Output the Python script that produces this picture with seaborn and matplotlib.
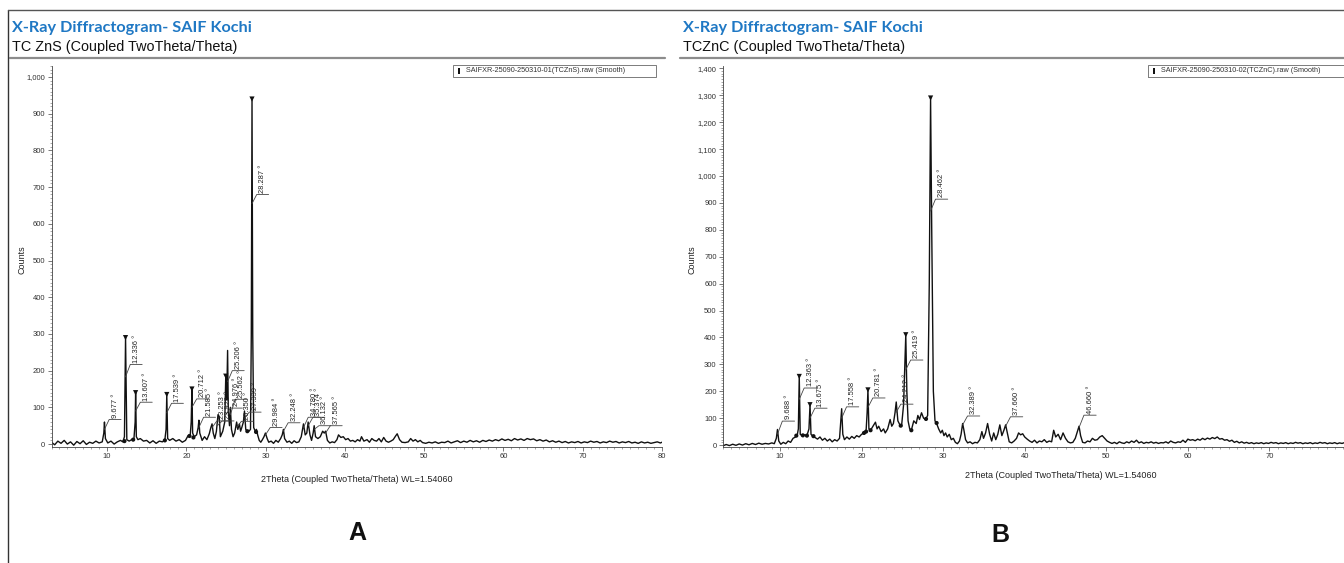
import matplotlib
matplotlib.use("Agg")
import matplotlib.pyplot as plt
from matplotlib.ticker import MultipleLocator, FuncFormatter
from matplotlib.lines import Line2D
from matplotlib.patches import Rectangle
import pandas as pd
import seaborn as sns

# ---------------- data ----------------
TITLE = "X-Ray Diffractogram- SAIF Kochi"
SUB_A = "TC ZnS (Coupled TwoTheta/Theta)"
SUB_B = "TCZnC (Coupled TwoTheta/Theta)"
XLABEL = "2Theta (Coupled TwoTheta/Theta) WL=1.54060"
YLABEL = "Counts"
LEG_A = "SAIFXR-25090-250310-01(TCZnS).raw (Smooth)"
LEG_B = "SAIFXR-25090-250310-02(TCZnC).raw (Smooth)"
X_TICKS_A = [10, 20, 30, 40, 50, 60, 70, 80]
X_TICKS_B = [10, 20, 30, 40, 50, 60, 70]

A_PROFILE = [
    (3.0, 5), (3.4, -2), (3.8, 8), (4.2, 2), (4.6, 10), (5.0, 0), (5.4, 6), (5.8, -3),
    (6.2, 7), (6.6, 1), (7.0, 9), (7.4, -1), (7.8, 5), (8.2, 2), (8.6, 8), (9.0, 3),
    (9.4, 6), (9.6, 30), (9.68, 60), (9.8, 15), (10.1, 3), (10.5, 8), (10.9, 0), (11.3, 6),
    (11.7, 10), (12.0, 6), (12.2, 20), (12.34, 290), (12.5, 12), (12.8, 8), (13.1, 12),
    (13.4, 15), (13.55, 60), (13.61, 140), (13.7, 20), (13.9, 12), (14.2, 15), (14.6, 8),
    (15.0, 10), (15.4, 3), (15.8, 9), (16.2, 2), (16.6, 8), (17.0, 6), (17.3, 12),
    (17.45, 40), (17.54, 135), (17.65, 15), (17.9, 10), (18.3, 15), (18.7, 8), (19.1, 12),
    (19.5, 5), (19.9, 10), (20.2, 22), (20.5, 25), (20.62, 60), (20.71, 150), (20.8, 30),
    (21.0, 20), (21.3, 25), (21.5, 45), (21.59, 65), (21.7, 30), (22.0, 10), (22.3, 20),
    (22.6, 12), (22.9, 28), (23.1, 45), (23.25, 55), (23.4, 30), (23.6, 15), (23.8, 35),
    (24.0, 80), (24.15, 75), (24.3, 20), (24.6, 35), (24.85, 60), (24.98, 185), (25.1, 120),
    (25.21, 255), (25.3, 90), (25.45, 50), (25.56, 100), (25.7, 40), (25.9, 20), (26.1, 30),
    (26.35, 60), (26.5, 40), (26.7, 55), (26.85, 35), (27.0, 45), (27.2, 60), (27.34, 90),
    (27.5, 40), (27.7, 35), (27.9, 35), (28.1, 40), (28.2, 300), (28.29, 940), (28.38, 300),
    (28.5, 45), (28.7, 35), (28.85, 40), (29.0, 25), (29.2, 10), (29.4, 5), (29.6, 12),
    (29.8, 20), (29.98, 30), (30.2, 15), (30.4, 5), (30.7, 8), (31.0, 2), (31.3, 10),
    (31.6, 5), (31.9, 15), (32.1, 25), (32.25, 40), (32.4, 15), (32.7, 5), (33.0, 8),
    (33.3, 2), (33.6, 9), (33.9, 4), (34.2, 6), (34.5, 20), (34.78, 55), (35.0, 25),
    (35.2, 30), (35.37, 60), (35.6, 25), (35.8, 10), (36.0, 30), (36.13, 50), (36.3, 20),
    (36.6, 15), (36.9, 20), (37.2, 35), (37.4, 30), (37.57, 35), (37.8, 10), (38.1, 3),
    (38.4, 6), (38.7, 4), (39.0, 12), (39.2, 25), (39.5, 18), (39.8, 20), (40.1, 12),
    (40.4, 15), (40.7, 8), (41.0, 10), (41.3, 6), (41.6, 12), (41.9, 8), (42.1, 20),
    (42.4, 8), (42.8, 12), (43.1, 5), (43.4, 15), (43.7, 10), (44.0, 8), (44.3, 15),
    (44.6, 6), (44.9, 18), (45.2, 8), (45.5, 5), (45.8, 8), (46.1, 12), (46.4, 22),
    (46.6, 28), (46.9, 12), (47.2, 5), (47.6, 4), (48.0, 6), (48.3, 15), (48.6, 8),
    (48.9, 12), (49.2, 6), (49.5, 10), (49.8, 4), (50.2, 2), (50.6, 5), (51.0, 3),
    (51.4, 6), (51.8, 2), (52.2, 5), (52.6, 4), (53.0, 8), (53.4, 3), (53.8, 6), (54.2, 9),
    (54.6, 4), (55.0, 8), (55.4, 5), (55.8, 10), (56.2, 6), (56.6, 9), (57.0, 5), (57.4, 10),
    (57.8, 7), (58.2, 11), (58.6, 8), (59.0, 12), (59.4, 9), (59.8, 14), (60.2, 10),
    (60.6, 13), (61.0, 9), (61.4, 15), (61.8, 11), (62.2, 14), (62.6, 10), (63.0, 15),
    (63.4, 12), (63.8, 14), (64.2, 9), (64.6, 12), (65.0, 8), (65.4, 11), (65.8, 6),
    (66.2, 9), (66.6, 5), (67.0, 8), (67.4, 4), (67.8, 7), (68.2, 3), (68.6, 6), (69.0, 4),
    (69.4, 7), (69.8, 3), (70.2, 6), (70.6, 4), (71.0, 8), (71.4, 5), (71.8, 7), (72.2, 3),
    (72.6, 6), (73.0, 4), (73.4, 8), (73.8, 5), (74.2, 7), (74.6, 3), (75.0, 6), (75.4, 4),
    (75.8, 7), (76.2, 3), (76.6, 5), (77.0, 2), (77.4, 6), (77.8, 3), (78.2, 5), (78.6, 2),
    (79.0, 4), (79.4, 6), (79.8, 3), (80.0, 5),
]

B_PROFILE = [
    (3.0, -3), (3.4, 2), (3.8, -2), (4.2, 3), (4.6, -1), (5.0, 4), (5.4, 0), (5.8, 5),
    (6.2, 1), (6.6, 6), (7.0, 2), (7.4, 7), (7.8, 3), (8.2, 6), (8.6, 4), (9.0, 8), (9.3, 5),
    (9.55, 25), (9.69, 58), (9.85, 15), (10.1, 3), (10.4, 10), (10.7, 5), (11.0, 15),
    (11.3, 10), (11.6, 25), (11.9, 30), (12.1, 35), (12.25, 60), (12.36, 255), (12.48, 40),
    (12.7, 35), (13.0, 38), (13.3, 35), (13.55, 60), (13.68, 150), (13.8, 40), (14.0, 33),
    (14.3, 28), (14.6, 22), (14.9, 30), (15.2, 18), (15.5, 25), (15.8, 15), (16.1, 22),
    (16.4, 12), (16.7, 20), (17.0, 15), (17.3, 25), (17.45, 90), (17.56, 135), (17.7, 40),
    (17.9, 20), (18.2, 30), (18.5, 22), (18.8, 32), (19.1, 25), (19.4, 35), (19.7, 30),
    (20.0, 40), (20.3, 45), (20.55, 50), (20.68, 120), (20.78, 205), (20.9, 60), (21.1, 55),
    (21.4, 70), (21.7, 85), (21.9, 60), (22.1, 70), (22.4, 50), (22.7, 60), (22.9, 45),
    (23.2, 60), (23.5, 95), (23.7, 70), (23.9, 80), (24.1, 120), (24.25, 160), (24.45, 90),
    (24.7, 75), (24.9, 70), (25.15, 150), (25.3, 300), (25.42, 410), (25.55, 200),
    (25.7, 90), (25.9, 60), (26.1, 55), (26.4, 90), (26.7, 80), (26.9, 110), (27.1, 95),
    (27.35, 120), (27.6, 100), (27.85, 95), (28.1, 110), (28.3, 600), (28.46, 1290),
    (28.6, 800), (28.8, 200), (29.0, 90), (29.2, 80), (29.45, 60), (29.7, 45), (29.9, 55),
    (30.1, 35), (30.3, 45), (30.5, 30), (30.75, 40), (31.0, 20), (31.25, 25), (31.5, 10),
    (31.75, 5), (32.0, 15), (32.2, 40), (32.39, 80), (32.55, 55), (32.75, 20), (33.0, 8),
    (33.3, 12), (33.6, 5), (33.9, 10), (34.2, 8), (34.5, 20), (34.75, 50), (34.95, 25),
    (35.2, 45), (35.45, 80), (35.7, 40), (35.95, 15), (36.2, 45), (36.45, 20), (36.7, 40),
    (36.95, 75), (37.2, 35), (37.45, 55), (37.66, 75), (37.9, 40), (38.1, 12), (38.4, 8),
    (38.7, 15), (39.0, 25), (39.25, 45), (39.5, 38), (39.75, 42), (40.0, 30), (40.3, 22),
    (40.6, 15), (40.9, 10), (41.2, 18), (41.5, 8), (41.8, 15), (42.1, 12), (42.4, 20),
    (42.7, 10), (43.0, 15), (43.3, 12), (43.55, 55), (43.8, 30), (44.1, 40), (44.4, 20),
    (44.7, 45), (45.0, 25), (45.3, 12), (45.6, 8), (45.9, 10), (46.2, 25), (46.45, 50),
    (46.66, 70), (46.85, 35), (47.1, 10), (47.4, 8), (47.7, 15), (48.0, 12), (48.3, 25),
    (48.6, 18), (48.9, 20), (49.2, 30), (49.5, 35), (49.8, 25), (50.1, 15), (50.4, 10),
    (50.7, 6), (51.0, 10), (51.3, 5), (51.6, 12), (51.9, 8), (52.2, 6), (52.5, 12),
    (52.8, 8), (53.1, 15), (53.4, 10), (53.7, 18), (54.0, 8), (54.3, 12), (54.6, 6),
    (54.9, 10), (55.2, 8), (55.5, 12), (55.8, 7), (56.1, 10), (56.4, 6), (56.7, 9),
    (57.0, 8), (57.3, 12), (57.6, 7), (57.9, 15), (58.2, 10), (58.5, 8), (58.8, 12),
    (59.1, 10), (59.4, 18), (59.7, 10), (60.0, 22), (60.3, 18), (60.6, 20), (60.9, 16),
    (61.2, 22), (61.5, 18), (61.8, 25), (62.1, 20), (62.4, 26), (62.7, 22), (63.0, 28),
    (63.3, 24), (63.6, 30), (63.9, 22), (64.2, 24), (64.5, 18), (64.8, 20), (65.1, 14),
    (65.4, 18), (65.7, 10), (66.0, 14), (66.3, 8), (66.6, 12), (66.9, 7), (67.2, 10),
    (67.5, 6), (67.8, 9), (68.1, 5), (68.4, 8), (68.7, 6), (69.0, 9), (69.3, 5), (69.6, 8),
    (69.9, 6), (70.2, 10), (70.5, 7), (70.8, 9), (71.1, 5), (71.4, 8), (71.7, 6), (72.0, 9),
    (72.3, 5), (72.6, 8), (72.9, 6), (73.2, 10), (73.5, 7), (73.8, 9), (74.1, 5), (74.4, 8),
    (74.7, 6), (75.0, 9), (75.3, 5), (75.6, 8), (75.9, 6), (76.2, 10), (76.5, 7), (76.8, 9),
    (77.1, 5), (77.4, 8), (77.7, 6), (78.0, 9), (78.3, 5), (78.6, 8), (78.9, 6), (79.2, 9),
    (79.5, 5), (79.8, 8), (80.0, 6),
]

# peak labels: (2theta, anchor counts, label-bar counts, text)
A_LABELS = [
    (9.677, 40, 67, "9.677 °"), (12.336, 183, 217, "12.336 °"), (13.607, 90, 114, "13.607 °"),
    (17.539, 85, 111, "17.539 °"), (20.712, 100, 123, "20.712 °"), (21.585, 45, 73, "21.585 °"),
    (23.253, 45, 63, "23.253 °"), (23.922, 50, 63, "23.922 °"), (24.976, 80, 98, "24.976 °"),
    (25.206, 170, 200, "25.206 °"), (25.562, 80, 122, "25.562 °"), (26.350, 45, 62, "26.350 °"),
    (27.339, 70, 87, "27.339 °"), (28.287, 655, 680, "28.287 °"), (29.984, 25, 45, "29.984 °"),
    (32.248, 35, 58, "32.248 °"), (34.780, 45, 73, "34.780 °"), (35.374, 50, 73, "35.374 °"),
    (36.132, 40, 50, "36.132 °"), (37.565, 30, 50, "37.565 °"),
]
B_LABELS = [
    (9.688, 40, 89, "9.688 °"), (12.363, 170, 212, "12.363 °"), (13.675, 100, 137, "13.675 °"),
    (17.558, 100, 142, "17.558 °"), (20.781, 140, 175, "20.781 °"), (24.212, 120, 152, "24.212 °"),
    (25.419, 280, 316, "25.419 °"), (28.462, 870, 914, "28.462 °"), (32.389, 75, 108, "32.389 °"),
    (37.660, 70, 105, "37.660 °"), (46.660, 65, 111, "46.660 °"),
]
A_TRI = [(12.336, 290), (13.607, 140), (17.539, 135), (20.712, 150), (24.976, 185), (28.287, 940)]
A_DOTS = [(12.2, 8), (13.3, 12), (17.3, 10), (20.4, 22), (20.9, 18), (27.7, 35), (28.8, 33)]
B_TRI = [(12.363, 255), (13.675, 150), (20.781, 205), (25.419, 410), (28.462, 1290)]
B_DOTS = [(12.0, 35), (12.8, 36), (13.3, 35), (14.1, 33), (20.3, 45), (20.55, 50), (21.1, 55),
          (24.8, 72), (26.1, 55), (27.9, 97), (29.2, 82)]

# ---------------- drawing ----------------
sns.set_theme(style="ticks")
plt.rcParams['font.family'] = ['Liberation Sans', 'DejaVu Sans']

W, H = 1344, 563
fig = plt.figure(figsize=(W / 100, H / 100), dpi=100)
fig.patch.set_facecolor('white')


def frac(x0, y0, x1, y1):
    return [x0 / W, 1 - y1 / H, (x1 - x0) / W, (y1 - y0) / H]


def draw_panel(ax, profile, labels, tri, dots, ymax, ymajor, xticks):
    df = pd.DataFrame(profile, columns=["theta", "counts"])
    sns.lineplot(data=df, x="theta", y="counts", ax=ax, color="#111111", lw=1.0,
                 sort=False, estimator=None)
    tdf = pd.DataFrame(tri, columns=["theta", "counts"])
    sns.scatterplot(data=tdf, x="theta", y="counts", ax=ax, marker="v", s=14,
                    color="#111111", edgecolor="none", zorder=5)
    ddf = pd.DataFrame(dots, columns=["theta", "counts"])
    sns.scatterplot(data=ddf, x="theta", y="counts", ax=ax, marker="o", s=9,
                    color="#111111", edgecolor="none", zorder=5)
    dx, w = 0.6, 1.5
    for x, ya, yh, txt in labels:
        ax.plot([x, x + dx, x + dx + w], [ya, yh, yh], color="#444444", lw=0.6)
        ax.annotate(txt, (x + dx + w / 2, yh), xytext=(0, 1.2), textcoords="offset points",
                    rotation=90, ha="center", va="bottom", fontsize=5.4, color="#222222")
    ax.set_xlim(3, 80)
    ax.set_ylim(-8, ymax)
    ax.set_xticks(xticks)
    ax.xaxis.set_minor_locator(MultipleLocator(1))
    ax.yaxis.set_major_locator(MultipleLocator(ymajor))
    ax.yaxis.set_minor_locator(MultipleLocator(10))
    ax.yaxis.set_major_formatter(FuncFormatter(lambda v, p: f"{int(round(v)):,}" if v >= 0 else ""))
    ax.set_xlabel("")
    ax.set_ylabel("")
    ax.tick_params(axis="both", which="major", labelsize=5.5, length=3, width=0.5,
                   color="#444444", labelcolor="#333333", pad=1.5)
    ax.tick_params(axis="both", which="minor", length=1.5, width=0.4, color="#666666")
    for s in ["top", "right"]:
        ax.spines[s].set_visible(False)
    for s in ["left", "bottom"]:
        ax.spines[s].set_linewidth(0.6)
        ax.spines[s].set_color("#444444")
    ax.set_facecolor("white")


axA = fig.add_axes(frac(51.5, 66, 662, 447))
draw_panel(axA, A_PROFILE, A_LABELS, A_TRI, A_DOTS, 1030, 100, X_TICKS_A)
axB = fig.add_axes(frac(722.9, 66, 1351, 447.2))
draw_panel(axB, B_PROFILE, B_LABELS, B_TRI, B_DOTS, 1409, 100, X_TICKS_B)

title_font = ['Lato', 'DejaVu Sans']
blue = "#1f78c4"
for x0, sub, lx0, lx1 in [(12, SUB_A, 10, 665), (683, SUB_B, 680, 1344)]:
    fig.text(x0 / W, 1 - 28 / H, TITLE, color=blue, fontsize=11.7, fontweight="bold",
             family=title_font, va="center", ha="left")
    fig.text(x0 / W, 1 - 47 / H, sub, color="#111111", fontsize=10.4, va="center", ha="left")
    fig.add_artist(Line2D([lx0 / W, lx1 / W], [1 - 58 / H, 1 - 58 / H], color="#8c8c8c", lw=1.6))

# legends (boxed)
for bx0, bx1, txt in [(453, 656, LEG_A), (1148, 1346, LEG_B)]:
    fig.add_artist(Rectangle((bx0 / W, 1 - 77 / H), (bx1 - bx0) / W, 12 / H,
                             transform=fig.transFigure, fill=False, lw=0.6, edgecolor="#666666"))
    fig.add_artist(Rectangle(((bx0 + 5) / W, 1 - 74 / H), 2 / W, 6 / H,
                             transform=fig.transFigure, facecolor="#111111", edgecolor="none"))
    fig.text((bx0 + 13) / W, 1 - 71 / H, txt, fontsize=5.2, va="center", ha="left", color="#333333")

# axis titles
fig.text(22 / W, 1 - 260 / H, YLABEL, rotation=90, fontsize=6.5, va="center", ha="center", color="#222222")
fig.text(692 / W, 1 - 260 / H, YLABEL, rotation=90, fontsize=6.5, va="center", ha="center", color="#222222")
fig.text(357 / W, 1 - 480 / H, XLABEL, fontsize=6.5, va="center", ha="center", color="#222222")
fig.text(1061 / W, 1 - 475 / H, XLABEL, fontsize=6.5, va="center", ha="center", color="#222222")

# panel letters
fig.text(357 / W, 1 - 533 / H, "A", fontsize=18, fontweight="bold", va="center", ha="center", color="#111111")
fig.text(1000 / W, 1 - 535 / H, "B", fontsize=18, fontweight="bold", va="center", ha="center", color="#111111")

# outer frame lines
fig.add_artist(Line2D([8 / W, 8 / W], [1 - 10 / H, 0], color="#333333", lw=1.0))
fig.add_artist(Line2D([8 / W, 1], [1 - 10 / H, 1 - 10 / H], color="#555555", lw=1.0))

fig.savefig("out.png", dpi=100, facecolor="white")
